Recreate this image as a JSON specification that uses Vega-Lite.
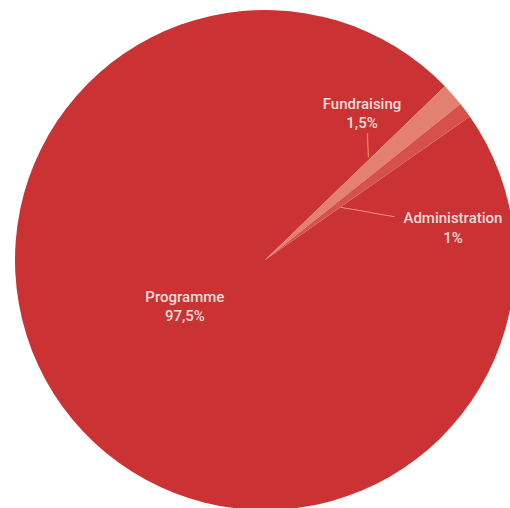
{
  "$schema": "https://vega.github.io/schema/vega-lite/v6.json",
  "width": 490,
  "height": 496,
  "autosize": "none",
  "padding": {"left": 20, "top": 12, "right": 0, "bottom": 0},
  "background": "white",
  "view": {"stroke": null},
  "data": {
    "values": [
      {"name": "Programme", "value": 97.5, "pct": "97,5%"},
      {"name": "Fundraising", "value": 1.5, "pct": "1,5%"},
      {"name": "Administration", "value": 1.0, "pct": "1%"}
    ]
  },
  "transform": [
    {"stack": "value", "groupby": [], "sort": [{"field": "name", "order": "descending"}], "as": ["s0", "s1"]},
    {"calculate": "datum.name + '\\n' + datum.pct", "as": "label"}
  ],
  "encoding": {
    "theta": {"field": "s0", "type": "quantitative", "stack": null, "scale": {"domain": [0, 100], "range": [0.96, 7.2432]}}
  },
  "layer": [
    {
      "mark": {"type": "arc", "radius": 250, "stroke": null},
      "encoding": {
        "theta2": {"field": "s1"},
        "color": {"field": "name", "type": "nominal", "legend": null,
          "scale": {"domain": ["Programme", "Fundraising", "Administration"], "range": ["#cb3234", "#e4806f", "#d6514a"]}}
      }
    },
    {
      "transform": [{"filter": "datum.name == 'Programme'"}],
      "mark": {"type": "text", "radius": 92, "thetaOffset": 3.239, "dy": -8, "font": "Roboto", "fontWeight": 500, "fontSize": 15, "color": "#f6dcd8", "lineBreak": "\n", "lineHeight": 19, "align": "center", "baseline": "middle"},
      "encoding": {"text": {"field": "label"}}
    },
    {
      "transform": [{"filter": "datum.name == 'Fundraising'"}],
      "mark": {"type": "text", "radius": 177, "thetaOffset": -0.223, "dy": -8, "font": "Roboto", "fontWeight": 500, "fontSize": 15, "color": "#f6dcd8", "lineBreak": "\n", "lineHeight": 19, "align": "center", "baseline": "middle"},
      "encoding": {"text": {"field": "label"}}
    },
    {
      "transform": [{"filter": "datum.name == 'Administration'"}],
      "mark": {"type": "text", "radius": 191, "thetaOffset": 0.494, "dy": -8, "font": "Roboto", "fontWeight": 500, "fontSize": 15, "color": "#f6dcd8", "lineBreak": "\n", "lineHeight": 20, "align": "center", "baseline": "middle"},
      "encoding": {"text": {"field": "label"}}
    },
    {
      "transform": [{"filter": "datum.name == 'Fundraising'"}],
      "mark": {"type": "text", "text": "────", "radius": 153.7, "thetaOffset": -0.073, "angle": 88, "font": "DejaVu Sans Mono", "fontSize": 10, "color": "#eea39a", "align": "center", "baseline": "middle"}
    },
    {
      "transform": [{"filter": "datum.name == 'Administration'"}],
      "mark": {"type": "text", "text": "─────────", "radius": 113, "thetaOffset": 0.239, "angle": 10, "font": "DejaVu Sans Mono", "fontSize": 10, "color": "#eea39a", "align": "center", "baseline": "middle"}
    }
  ]
}
